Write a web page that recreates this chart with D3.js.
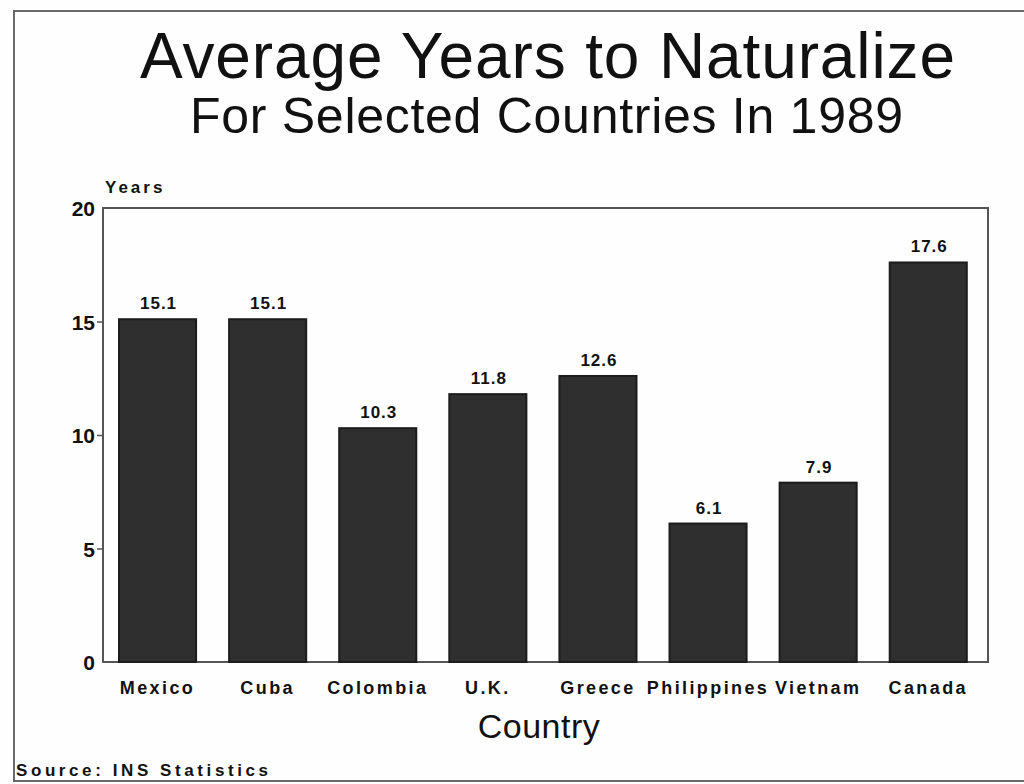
<!DOCTYPE html>
<html>
<head>
<meta charset="utf-8">
<script src="https://cdn.jsdelivr.net/npm/d3@7"></script>
<style>
  html, body { margin: 0; padding: 0; background: #fff; }
  svg { display: block; }
  text { font-family: "Liberation Sans", Arial, Helvetica, sans-serif; fill: #111; }
</style>
</head>
<body>
<svg id="chart" width="1024" height="784"></svg>
<script>
// Average years to naturalize, 1989
const countries = ["Mexico", "Cuba", "Colombia", "U.K.", "Greece", "Philippines", "Vietnam", "Canada"];
const years = [15.1, 15.1, 10.3, 11.8, 12.6, 6.1, 7.9, 17.6];
const yTicks = [0, 5, 10, 15, 20];

const svg = d3.select("#chart");
const W = 1024, H = 784;
const plot = { left: 103, right: 988, top: 208, bottom: 662 };

svg.append("rect").attr("width", W).attr("height", H).attr("fill", "#fefefe");

// outer page frame
svg.append("rect")
  .attr("x", 14).attr("y", 11)
  .attr("width", 1040).attr("height", 770)
  .attr("fill", "none").attr("stroke", "#6a6a6a").attr("stroke-width", 2);

// titles
svg.append("text")
  .attr("x", 140).attr("y", 78)
  .attr("textLength", 815).attr("lengthAdjust", "spacing")
  .style("font-size", "64px")
  .text("Average Years to Naturalize");

svg.append("text")
  .attr("x", 190).attr("y", 133)
  .attr("textLength", 713).attr("lengthAdjust", "spacing")
  .style("font-size", "50px")
  .text("For Selected Countries In 1989");

const x = d3.scaleBand()
  .domain(countries)
  .range([plot.left, plot.right])
  .paddingInner(0.3)
  .paddingOuter(0.169)
  .align(0.43);

const y = d3.scaleLinear()
  .domain([0, 20])
  .range([plot.bottom, plot.top]);

// plot frame
svg.append("rect")
  .attr("x", plot.left).attr("y", plot.top)
  .attr("width", plot.right - plot.left).attr("height", plot.bottom - plot.top)
  .attr("fill", "none").attr("stroke", "#555").attr("stroke-width", 2);

// y axis
const yAxis = d3.axisLeft(y).tickValues(yTicks).tickSize(6).tickPadding(6).tickFormat(d3.format("d"));
const gy = svg.append("g").attr("transform", `translate(${plot.left},0)`).call(yAxis);
gy.select(".domain").remove();
gy.selectAll(".tick line").attr("stroke", "#555").attr("stroke-width", 1.5);
gy.selectAll(".tick text")
  .style("font-size", "21px").style("font-weight", "bold")
  .attr("fill", "#111").attr("dy", "0.36em").attr("x", -8);
gy.selectAll(".tick").filter(d => d === 0 || d === 20).select("line").remove();

svg.append("text")
  .attr("x", 105).attr("y", 193)
  .style("font-size", "17px").style("font-weight", "bold").style("letter-spacing", "3px")
  .text("Years");

// bars
svg.append("g").selectAll("rect")
  .data(countries)
  .join("rect")
  .attr("x", d => x(d))
  .attr("y", (d, i) => y(years[i]))
  .attr("width", x.bandwidth())
  .attr("height", (d, i) => y(0) - y(years[i]))
  .attr("fill", "#2f2f2f")
  .attr("stroke", "#1c1c1c")
  .attr("stroke-width", 2);

// value labels
svg.append("g").selectAll("text")
  .data(countries)
  .join("text")
  .attr("x", d => x(d) + x.bandwidth() / 2 + 1)
  .attr("y", (d, i) => y(years[i]) - 10)
  .attr("text-anchor", "middle")
  .style("font-size", "17px").style("font-weight", "bold").style("letter-spacing", "1px")
  .text((d, i) => years[i].toFixed(1));

// category labels
const xAxis = d3.axisBottom(x).tickSize(0).tickPadding(19);
const gx = svg.append("g").attr("transform", `translate(0,${plot.bottom})`).call(xAxis);
gx.select(".domain").remove();
gx.selectAll(".tick text")
  .style("font-size", "18px").style("font-weight", "bold").style("letter-spacing", "2.4px")
  .attr("fill", "#111").attr("dx", "0px");

// axis title
svg.append("text")
  .attr("x", 539).attr("y", 738)
  .attr("text-anchor", "middle")
  .style("font-size", "34px").style("letter-spacing", "0.5px")
  .text("Country");

// source note
svg.append("text")
  .attr("x", 16).attr("y", 776)
  .attr("textLength", 252).attr("lengthAdjust", "spacing")
  .style("font-size", "17px").style("font-weight", "bold")
  .text("Source:  INS Statistics");
</script>
</body>
</html>
